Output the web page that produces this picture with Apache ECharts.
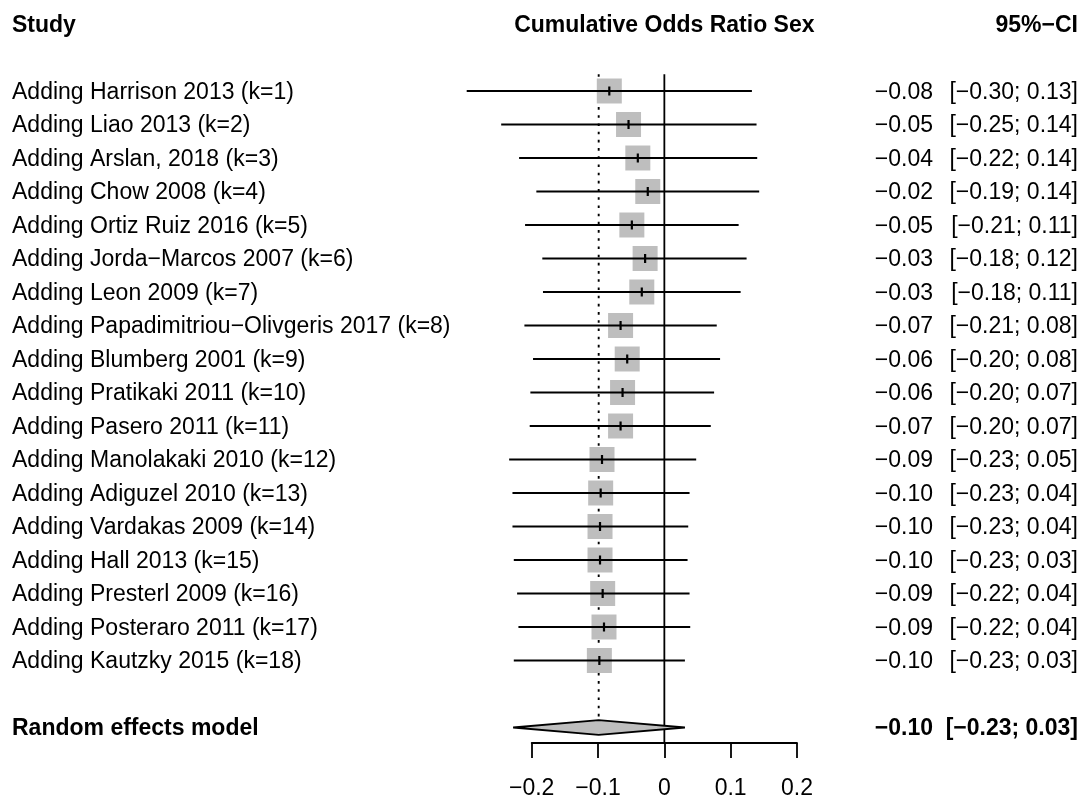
<!DOCTYPE html>
<html>
<head>
<meta charset="utf-8">
<script src="https://cdn.jsdelivr.net/npm/echarts@6/dist/echarts.min.js"></script>
<style>
html,body{margin:0;padding:0;background:#fff;}
#chart{width:1084px;height:795px;}
</style>
</head>
<body>
<div id="chart"></div>
<script>
const studies = [
  'Adding Harrison 2013 (k=1)',
  'Adding Liao 2013 (k=2)',
  'Adding Arslan, 2018 (k=3)',
  'Adding Chow 2008 (k=4)',
  'Adding Ortiz Ruiz 2016 (k=5)',
  'Adding Jorda\u2212Marcos 2007 (k=6)',
  'Adding Leon 2009 (k=7)',
  'Adding Papadimitriou\u2212Olivgeris 2017 (k=8)',
  'Adding Blumberg 2001 (k=9)',
  'Adding Pratikaki 2011 (k=10)',
  'Adding Pasero 2011 (k=11)',
  'Adding Manolakaki 2010 (k=12)',
  'Adding Adiguzel 2010 (k=13)',
  'Adding Vardakas 2009 (k=14)',
  'Adding Hall 2013 (k=15)',
  'Adding Presterl 2009 (k=16)',
  'Adding Posteraro 2011 (k=17)',
  'Adding Kautzky 2015 (k=18)'
];
const estimates = [-0.083, -0.054, -0.040, -0.025, -0.049, -0.029, -0.034, -0.066, -0.056, -0.063, -0.066, -0.094, -0.096, -0.097, -0.097, -0.093, -0.091, -0.098];
const lowers    = [-0.298, -0.246, -0.219, -0.193, -0.210, -0.184, -0.183, -0.211, -0.198, -0.202, -0.203, -0.234, -0.229, -0.229, -0.227, -0.222, -0.220, -0.227];
const uppers    = [0.132, 0.139, 0.140, 0.143, 0.112, 0.124, 0.115, 0.079, 0.084, 0.075, 0.070, 0.048, 0.038, 0.036, 0.035, 0.038, 0.039, 0.031];
const estLabels = ['\u22120.08','\u22120.05','\u22120.04','\u22120.02','\u22120.05','\u22120.03','\u22120.03','\u22120.07','\u22120.06','\u22120.06','\u22120.07','\u22120.09','\u22120.10','\u22120.10','\u22120.10','\u22120.09','\u22120.09','\u22120.10'];
const ciLabels = [
  '[\u22120.30; 0.13]','[\u22120.25; 0.14]','[\u22120.22; 0.14]','[\u22120.19; 0.14]','[\u22120.21; 0.11]',
  '[\u22120.18; 0.12]','[\u22120.18; 0.11]','[\u22120.21; 0.08]','[\u22120.20; 0.08]','[\u22120.20; 0.07]',
  '[\u22120.20; 0.07]','[\u22120.23; 0.05]','[\u22120.23; 0.04]','[\u22120.23; 0.04]','[\u22120.23; 0.03]',
  '[\u22120.22; 0.04]','[\u22120.22; 0.04]','[\u22120.23; 0.03]'
];
const pooledLabel = 'Random effects model';
const pooledEst = -0.099;
const pooledLower = -0.228;
const pooledUpper = 0.031;
const pooledEstLabel = '\u22120.10';
const pooledCiLabel = '[\u22120.23; 0.03]';
const headers = ['Study', 'Cumulative Odds Ratio Sex', '95%\u2212CI'];
const xTicks = [-0.2, -0.1, 0, 0.1, 0.2];

// layout
const FONT = "'Liberation Sans', Arial, Helvetica, sans-serif";
const FS = 23;
const topPx = 74.25, rowPx = 33.5, axisPx = 743;
const pooledRow = studies.length + 2;
const yMax = 0.5 + (axisPx - topPx) / rowPx;
const labelX = 12, estRightX = 933, ciRightX = 1078;
const boxSize = 25, diamondHalf = 7.3;
const textDy = 1.5;
const LW = 1.8;

const studyData = studies.map((s, i) => [i + 1, estimates[i], lowers[i], uppers[i], i]);

function txt(text, x, y, align, bold) {
  return {
    type: 'text',
    style: {
      text: text, x: x, y: y, fill: '#000',
      font: (bold ? 'bold ' : '') + FS + 'px ' + FONT,
      align: align, verticalAlign: 'middle'
    }
  };
}

const chart = echarts.init(document.getElementById('chart'), null, {renderer: 'canvas'});
chart.setOption({
  animation: false,
  backgroundColor: '#fff',
  grid: {left: 531.7, right: 1084 - 797, top: topPx, bottom: 795 - axisPx, containLabel: false, outerBoundsMode: 'none'},
  xAxis: {
    type: 'value', min: -0.2, max: 0.2, interval: 0.1,
    axisLine: {show: true, onZero: false, lineStyle: {color: '#000', width: LW}},
    axisTick: {show: true, inside: false, length: 15, lineStyle: {color: '#000', width: LW}},
    axisLabel: {
      margin: 34, color: '#000', fontSize: FS, fontFamily: FONT,
      formatter: function (v) {
        if (Math.abs(v) < 1e-9) return '0';
        return (v < 0 ? '\u2212' : '') + Math.abs(v).toFixed(1);
      }
    },
    splitLine: {show: false}
  },
  yAxis: {
    type: 'value', inverse: true, min: 0.5, max: yMax, show: false,
    axisLine: {show: false}, splitLine: {show: false}
  },
  series: [
    {
      // reference lines
      type: 'custom', clip: false, z: 1,
      data: [[0, pooledEst]],
      encode: {x: [0, 1]},
      renderItem: function (params, api) {
        const z0 = api.coord([0, 0.5]);
        const z1 = api.coord([0, yMax]);
        const d0 = api.coord([pooledEst, 0.5]);
        const d1 = api.coord([pooledEst, pooledRow]);
        return {
          type: 'group',
          children: [
            {type: 'line', shape: {x1: z0[0], y1: z0[1], x2: z1[0], y2: z1[1]},
             style: {stroke: '#000', lineWidth: LW}},
            {type: 'line', shape: {x1: d0[0], y1: d0[1], x2: d1[0], y2: d1[1] - diamondHalf},
             style: {stroke: '#000', lineWidth: 1.9, lineDash: [2.6, 5.6]}}
          ]
        };
      }
    },
    {
      // studies
      type: 'custom', clip: false, z: 2,
      data: studyData,
      encode: {x: [1, 2, 3], y: 0},
      renderItem: function (params, api) {
        const row = api.value(0);
        const idx = api.value(4);
        const c = api.coord([api.value(1), row]);
        const l = api.coord([api.value(2), row]);
        const h = api.coord([api.value(3), row]);
        const ty = c[1] + textDy;
        return {
          type: 'group',
          children: [
            {type: 'rect', shape: {x: c[0] - boxSize / 2, y: c[1] - boxSize / 2, width: boxSize, height: boxSize},
             style: {fill: '#bebebe'}},
            {type: 'line', shape: {x1: l[0], y1: l[1], x2: h[0], y2: h[1]},
             style: {stroke: '#000', lineWidth: LW}},
            {type: 'line', shape: {x1: c[0], y1: c[1] - 4.5, x2: c[0], y2: c[1] + 4.5},
             style: {stroke: '#000', lineWidth: 2.2}},
            txt(studies[idx], labelX, ty, 'left', false),
            txt(estLabels[idx], estRightX, ty, 'right', false),
            txt(ciLabels[idx], ciRightX, ty, 'right', false)
          ]
        };
      }
    },
    {
      // pooled
      type: 'custom', clip: false, z: 3,
      data: [[pooledRow, pooledEst, pooledLower, pooledUpper]],
      encode: {x: [1, 2, 3], y: 0},
      renderItem: function (params, api) {
        const row = api.value(0);
        const c = api.coord([api.value(1), row]);
        const l = api.coord([api.value(2), row]);
        const h = api.coord([api.value(3), row]);
        const ty = c[1] + textDy;
        return {
          type: 'group',
          children: [
            {type: 'polygon', shape: {points: [[l[0], c[1]], [c[0], c[1] - diamondHalf], [h[0], c[1]], [c[0], c[1] + diamondHalf]]},
             style: {fill: '#bebebe', stroke: '#000', lineWidth: LW, lineJoin: 'miter'}},
            txt(pooledLabel, labelX, ty, 'left', true),
            txt(pooledEstLabel, estRightX, ty, 'right', true),
            txt(pooledCiLabel, ciRightX, ty, 'right', true)
          ]
        };
      }
    },
    {
      // headers
      type: 'custom', clip: false, z: 3,
      data: [[0, -1]],
      encode: {x: 0, y: 1},
      renderItem: function (params, api) {
        const p = api.coord([0, -1]);
        const ty = p[1] + textDy;
        return {
          type: 'group',
          children: [
            txt(headers[0], labelX, ty, 'left', true),
            txt(headers[1], p[0], ty, 'center', true),
            txt(headers[2], ciRightX, ty, 'right', true)
          ]
        };
      }
    }
  ]
});
</script>
</body>
</html>
